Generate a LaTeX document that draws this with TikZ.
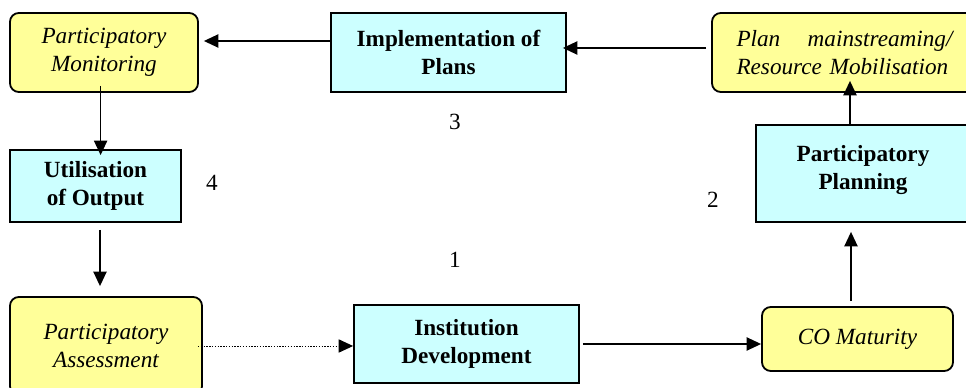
\documentclass[tikz,border=0pt]{standalone}
\usepackage{fontspec}
\setmainfont{Liberation Serif}
\usetikzlibrary{arrows.meta}
\definecolor{softyellow}{HTML}{FFFF99}
\definecolor{softcyan}{HTML}{CCFFFF}

\begin{document}
\begin{tikzpicture}[
	outbox/.style={draw, line width=1.3pt, rounded corners=0.22cm, fill=softyellow, inner sep=0pt, align=center, font=\fontsize{16.5}{19.5}\selectfont\itshape},
	actbox/.style={draw, line width=1.3pt, fill=softcyan, inner sep=0pt, align=center, font=\fontsize{16.5}{19.5}\selectfont\bfseries},
	flow/.style={arrows={-Triangle[length=0.36cm, width=0.33cm]}, line width=1pt},
	stage/.style={font=\fontsize{16.5}{19.5}\selectfont}
]
	\fill [white] (0, 0) rectangle (24.15, 9.7);
	\useasboundingbox (0, 0) rectangle (24.15, 9.7);

	% top row
	\node [outbox, minimum width=4.7cm, minimum height=1.975cm] (mon) at (2.6, 8.3875) {Participatory\\Monitoring};
	\node [actbox, minimum width=5.875cm, minimum height=1.975cm] (impl) at (11.2125, 8.3875) {Implementation of\\Plans};
	\node [outbox, minimum width=6.625cm, minimum height=1.975cm, text width=5.4cm, align=left] (plan) at (21.1125, 8.3875) {Plan\hfill mainstreaming/\\Resource Mobilisation};

	% middle row
	\node [actbox, minimum width=4.275cm, minimum height=1.8cm] (util) at (2.3875, 5.05) {Utilisation\\of Output};
	\node [actbox, minimum width=5.35cm, minimum height=2.425cm] (pp) at (21.575, 5.3625) {Participatory\\Planning\\[-0.39cm]};

	% bottom row
	\node [outbox, minimum width=4.8cm, minimum height=2.45cm] (ass) at (2.65, 1.05) {Participatory\\Assessment};
	\node [actbox, minimum width=5.625cm, minimum height=1.95cm] (inst) at (11.6625, 1.1) {Institution\\Development};
	\node [outbox, minimum width=4.775cm, minimum height=1.6cm] (co) at (21.4375, 1.225) {CO Maturity};

	% stage numbers
	\node [stage] (stage1) at (11.375, 3.2) {1};
	\node [stage] (stage2) at (17.825, 4.7) {2};
	\node [stage] (stage3) at (11.375, 6.65) {3};
	\node [stage] (stage4) at (5.3, 5.125) {4};

	\draw [flow, densely dotted, line width=0.7pt, shorten <=-0.125cm] (ass.east) -- (ass.east -| inst.west);
	\draw [flow, shorten <=0.075cm] (inst.east) -- (inst.east -| co.west);
	\draw [flow, shorten <=0.125cm, shorten >=0.225cm] ([xshift=-0.1625cm]co.north) -- ([xshift=-0.1625cm]co.north |- pp.south);
	\draw [flow, shorten >=-0.3cm] ([xshift=-0.325cm]pp.north) -- ([xshift=-0.325cm]pp.north |- plan.south);
	\draw [flow, shorten <=0.125cm, shorten >=-0.1cm] ([yshift=0.1125cm]plan.west) -- ([yshift=0.1125cm]impl.east);
	\draw [flow, shorten >=0.125cm] ([yshift=0.2875cm]impl.west) -- ([yshift=0.2875cm]mon.east);
	\draw [flow, shorten <=-0.175cm, shorten >=-0.15cm] ([xshift=-0.085cm]mon.south) -- ([xshift=-0.085cm]mon.south |- util.north);
	\draw [flow, shorten <=0.175cm, shorten >=0.25cm] ([xshift=0.1125cm]util.south) -- ([xshift=0.1125cm]util.south |- ass.north);
\end{tikzpicture}
\end{document}
